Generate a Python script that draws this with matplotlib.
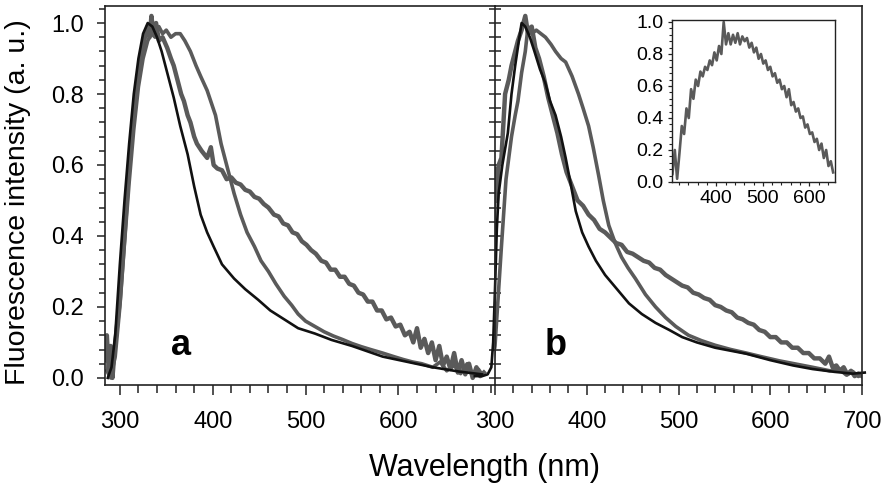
import matplotlib
matplotlib.use("Agg")
import matplotlib.pyplot as plt
from matplotlib.ticker import MultipleLocator, FixedLocator

plt.rcParams["font.family"] = ["Liberation Sans", "DejaVu Sans"]

# ---- panel a ----
wl_a_black = [287, 291, 295, 300, 305, 310, 315, 320, 325, 330, 335, 340, 345, 350, 358, 365, 373, 380,
              387, 394, 401, 410, 423, 435, 449, 462, 474, 492, 510, 528, 550, 583, 610, 637, 665, 690]
int_a_black = [0.0, 0.03, 0.12, 0.32, 0.5, 0.66, 0.8, 0.9, 0.97, 1.0, 0.99, 0.96, 0.92, 0.87, 0.79, 0.71, 0.63, 0.54,
               0.46, 0.41, 0.37, 0.32, 0.28, 0.25, 0.22, 0.19, 0.17, 0.14, 0.125, 0.107, 0.09, 0.06, 0.045, 0.03, 0.018, 0.01]

wl_a_g1 = [286, 290, 295, 300, 305, 310, 315, 320, 325, 330,
           334, 338, 342, 346, 350, 355, 360, 365, 370, 376,
           382, 387, 394, 403, 409, 416, 423, 430, 437, 445,
           452, 460, 468, 477, 485, 492, 500, 510, 520, 530,
           540, 550, 560, 570, 583, 595, 605, 615, 625, 637,
           645, 652, 660, 667, 674, 680, 686, 690]
int_a_g1 = [0.02, 0.0, 0.06, 0.2, 0.38, 0.55, 0.7, 0.82, 0.9, 0.95,
            0.97, 0.96, 0.99, 0.97, 0.98, 0.96, 0.97, 0.97, 0.95, 0.92,
            0.88, 0.85, 0.81, 0.74, 0.66, 0.59, 0.52, 0.46, 0.41, 0.37,
            0.33, 0.30, 0.265, 0.23, 0.205, 0.18, 0.16, 0.145, 0.13, 0.118,
            0.108, 0.097, 0.088, 0.08, 0.07, 0.06, 0.052, 0.045, 0.04, 0.03,
            0.045, 0.02, 0.035, 0.012, 0.04, 0.008, 0.025, 0.01]

wl_a_g2 = [284, 286, 288, 290, 292, 295, 300, 305, 310, 315,
           320, 324, 327, 330, 332, 334, 336, 339, 342, 346,
           351, 355, 358, 362, 366, 369, 373, 376, 380, 383,
           388, 394, 398, 401, 405, 410, 415, 420, 425, 430,
           435, 440, 445, 450, 455, 460, 466, 471, 476, 481,
           486, 491, 496, 501, 506, 511, 517, 522, 527, 532,
           537, 542, 547, 552, 557, 562, 567, 572, 577, 582,
           587, 592, 597, 602, 607, 612, 616, 620, 624, 628,
           632, 636, 640, 644, 648, 652, 656, 660, 664, 668,
           672, 676, 680, 684, 688, 692]
int_a_g2 = [0.05, 0.12, 0.02, 0.09, 0.0, 0.1, 0.22, 0.4, 0.6, 0.75,
            0.86, 0.92, 0.96, 0.99, 0.96, 1.02, 0.97, 1.0, 0.95, 0.96,
            0.93, 0.9, 0.88, 0.84, 0.8, 0.78, 0.74, 0.72, 0.68, 0.66,
            0.64, 0.62, 0.65, 0.6, 0.59, 0.585, 0.56, 0.565, 0.55, 0.545,
            0.53, 0.525, 0.51, 0.505, 0.49, 0.48, 0.46, 0.455, 0.435, 0.43,
            0.41, 0.405, 0.385, 0.375, 0.36, 0.35, 0.33, 0.325, 0.305, 0.305,
            0.285, 0.285, 0.265, 0.26, 0.24, 0.235, 0.215, 0.215, 0.19, 0.19,
            0.165, 0.17, 0.145, 0.15, 0.12, 0.13, 0.1, 0.14, 0.085, 0.11,
            0.07, 0.1, 0.05, 0.09, 0.035, 0.06, 0.025, 0.07, 0.015, 0.05,
            0.01, 0.04, 0.0, 0.03, 0.005, 0.015]

# ---- panel b ----
wl_b_black = [278, 286, 292, 296, 298, 300, 302, 304, 308, 314,
              318, 322, 326, 329, 333, 338, 343, 349, 355, 360,
              366, 372, 377, 383, 388, 395, 402, 410, 420, 433,
              446, 460, 475, 490, 504, 520, 540, 560, 574, 600,
              625, 646, 670, 690, 703]
int_b_black = [0.005, 0.005, 0.01, 0.03, 0.1, 0.25, 0.42, 0.52, 0.6, 0.69,
               0.8, 0.88, 0.95, 1.0, 0.99, 0.96, 0.92, 0.87, 0.83, 0.78,
               0.74, 0.68, 0.62, 0.54, 0.47, 0.41, 0.37, 0.33, 0.29, 0.25,
               0.21, 0.18, 0.155, 0.135, 0.115, 0.1, 0.085, 0.075, 0.068, 0.05,
               0.035, 0.025, 0.017, 0.012, 0.015]

wl_b_g1 = [292, 296, 300, 304, 307, 312, 318, 322, 325, 329,
           333, 336, 340, 345, 350, 355, 361, 366, 372, 377,
           384, 391, 396, 402, 407, 413, 418, 424, 431, 438,
           445, 453, 464, 475, 486, 497, 511, 525, 540, 557,
           574, 590, 610, 630, 646, 665, 675, 683, 690, 696,
           700]
int_b_g1 = [0.0, 0.02, 0.09, 0.25, 0.37, 0.56, 0.68, 0.74, 0.78, 0.86,
            0.92, 0.99, 0.97, 0.98, 0.97, 0.96, 0.94, 0.92, 0.9, 0.89,
            0.85, 0.8, 0.76, 0.71, 0.65, 0.57, 0.5, 0.43, 0.38, 0.34,
            0.31, 0.28, 0.235, 0.2, 0.17, 0.145, 0.12, 0.105, 0.092, 0.08,
            0.07, 0.06, 0.048, 0.038, 0.03, 0.02, 0.025, 0.008, 0.018, 0.004,
            0.01]

wl_b_g2 = [296, 298, 299, 300, 302, 304, 307, 311, 315, 318,
           322, 325, 329, 333, 336, 340, 344, 348, 353, 358,
           363, 368, 373, 378, 384, 390, 396, 402, 408, 414,
           420, 426, 432, 438, 444, 450, 456, 462, 468, 474,
           480, 486, 492, 498, 504, 510, 516, 522, 528, 534,
           540, 546, 552, 558, 564, 570, 576, 582, 588, 594,
           600, 606, 612, 618, 624, 630, 636, 642, 648, 654,
           660, 664, 668, 672, 676, 680, 684, 688, 692, 696,
           700]
int_b_g2 = [0.0, 0.1, 0.45, 0.59, 0.5, 0.6, 0.62, 0.8, 0.84, 0.88,
            0.92, 0.95, 0.98, 1.02, 0.97, 0.99, 0.93, 0.9, 0.85, 0.79,
            0.74, 0.69, 0.63, 0.58, 0.54, 0.5, 0.485, 0.46, 0.445, 0.42,
            0.41, 0.395, 0.38, 0.375, 0.355, 0.35, 0.34, 0.33, 0.325, 0.31,
            0.305, 0.29, 0.28, 0.27, 0.26, 0.255, 0.24, 0.235, 0.225, 0.22,
            0.205, 0.2, 0.19, 0.185, 0.17, 0.165, 0.155, 0.15, 0.135, 0.13,
            0.115, 0.115, 0.1, 0.1, 0.085, 0.085, 0.07, 0.07, 0.055, 0.055,
            0.04, 0.06, 0.03, 0.035, 0.02, 0.03, 0.01, 0.02, 0.005, 0.012,
            0.005]

# ---- inset ----
wl_inset = [306, 311, 316, 321, 326, 331, 336, 341, 346, 351,
            356, 361, 366, 371, 376, 381, 386, 391, 396, 401,
            406, 411, 416, 421, 426, 431, 436, 441, 446, 451,
            456, 461, 466, 471, 476, 481, 486, 491, 496, 501,
            506, 511, 516, 521, 526, 531, 536, 541, 546, 551,
            556, 561, 566, 571, 576, 581, 586, 591, 596, 601,
            606, 611, 616, 621, 626, 631, 636, 641, 646, 651]
int_inset = [0.05, 0.2, 0.02, 0.18, 0.35, 0.3, 0.46, 0.4, 0.58, 0.52,
             0.64, 0.6, 0.69, 0.66, 0.72, 0.7, 0.76, 0.73, 0.81, 0.76,
             0.85, 0.8, 1.0, 0.86, 0.93, 0.86, 0.92, 0.87, 0.93, 0.86,
             0.91, 0.88, 0.9, 0.84, 0.87, 0.81, 0.84, 0.77, 0.8, 0.74,
             0.76, 0.7, 0.72, 0.66, 0.68, 0.62, 0.64, 0.58, 0.6, 0.53,
             0.58, 0.48, 0.5, 0.44, 0.46, 0.4, 0.41, 0.34, 0.36, 0.3,
             0.31, 0.25, 0.27, 0.2, 0.24, 0.15, 0.2, 0.1, 0.13, 0.06]

GREY = "#5a5a5a"
BLACK = "#111111"
SPINE = "#222222"

W, H = 886, 491
fig = plt.figure(figsize=(W / 100, H / 100), dpi=100)


def px_axes(x0, x1, y0, y1):
    # pixel box -> figure fraction
    return fig.add_axes([x0 / W, 1 - y1 / H, (x1 - x0) / W, (y1 - y0) / H])


ax_a = px_axes(105, 495, 6, 385)
ax_b = px_axes(495, 862, 6, 385)
ax_in = px_axes(672, 835, 20, 182)

for ax in (ax_a, ax_b):
    ax.set_ylim(-0.02, 1.048)
    for s in ax.spines.values():
        s.set_color(SPINE)
        s.set_linewidth(1.2)
    ax.yaxis.set_major_locator(MultipleLocator(0.2))
    ax.yaxis.set_minor_locator(MultipleLocator(0.04))
    ax.xaxis.set_minor_locator(MultipleLocator(20))
    ax.tick_params(axis="x", which="major", direction="out", length=7, width=1.1,
                   color=SPINE, labelsize=17, pad=12)
    ax.tick_params(axis="x", which="minor", direction="out", length=5.5, width=1.1, color=SPINE)

ax_a.set_xlim(284, 704)
ax_a.xaxis.set_major_locator(FixedLocator([300, 400, 500, 600]))
ax_a.spines["right"].set_visible(False)
ax_a.tick_params(axis="y", which="major", direction="out", length=6, width=1.1,
                 color=SPINE, labelsize=17, pad=9)
ax_a.tick_params(axis="y", which="minor", direction="out", length=4, width=1.1, color=SPINE)
ax_a.set_yticks([0.0, 0.2, 0.4, 0.6, 0.8, 1.0])
ax_a.set_yticklabels(["0.0", "0.2", "0.4", "0.6", "0.8", "1.0"])

ax_b.set_xlim(300, 700)
ax_b.xaxis.set_major_locator(MultipleLocator(100))
ax_b.tick_params(axis="y", which="both", direction="inout", length=8, width=1.1,
                 color=SPINE, labelleft=False)
ax_b.patch.set_alpha(0)

# curves
ax_a.plot(wl_a_g1, int_a_g1, color=GREY, lw=2.6)
ax_a.plot(wl_a_g2, int_a_g2, color=GREY, lw=3.2)
ax_a.plot(wl_a_black, int_a_black, color=BLACK, lw=1.9)

ax_b.plot(wl_b_g1, int_b_g1, color=GREY, lw=2.6)
ax_b.plot(wl_b_g2, int_b_g2, color=GREY, lw=3.2)
ax_b.plot(wl_b_black, int_b_black, color=BLACK, lw=1.9, clip_on=False)

ax_a.text(366, 0.065, "a", fontsize=26, fontweight="bold", ha="center", va="baseline")
ax_b.text(366, 0.065, "b", fontsize=26, fontweight="bold", ha="center", va="baseline")

# inset
ax_in.plot(wl_inset, int_inset, color=GREY, lw=1.9)
ax_in.set_xlim(305, 655)
ax_in.set_ylim(0, 1.0125)
ax_in.xaxis.set_major_locator(MultipleLocator(100))
ax_in.xaxis.set_minor_locator(MultipleLocator(20))
ax_in.yaxis.set_major_locator(MultipleLocator(0.2))
ax_in.yaxis.set_minor_locator(MultipleLocator(0.04))
ax_in.set_yticks([0.0, 0.2, 0.4, 0.6, 0.8, 1.0])
ax_in.set_yticklabels(["0.0", "0.2", "0.4", "0.6", "0.8", "1.0"])
for s in ax_in.spines.values():
    s.set_color(SPINE)
    s.set_linewidth(1.0)
ax_in.tick_params(which="major", direction="out", length=3, width=0.9, color=SPINE,
                  labelsize=14, pad=3)
ax_in.tick_params(which="minor", direction="out", length=2, width=0.8, color=SPINE)

fig.text(18 / W, 1 - 202 / H, "Fluorescence intensity (a. u.)", rotation=90,
         ha="center", va="center", fontsize=20.5)
fig.text(485 / W, 1 - 468 / H, "Wavelength (nm)", ha="center", va="center", fontsize=22)

fig.savefig("out.png", dpi=100)
